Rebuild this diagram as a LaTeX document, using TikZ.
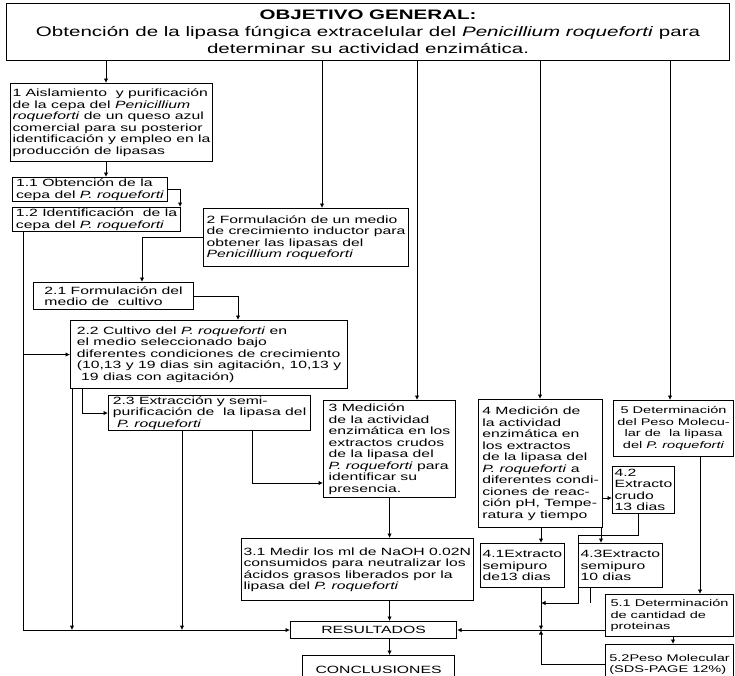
\documentclass[tikz,border=0pt]{standalone}
\usepackage{fontspec}
\setmainfont[FakeStretch=1.5]{Liberation Sans}
\usetikzlibrary{arrows.meta,positioning}
\newcommand{\bxfont}{\fontsize{10.5}{11.5}\selectfont}
\newcommand{\bxsfont}{\fontsize{9.7}{11.5}\selectfont}
\newcommand{\ttlfont}{\fontsize{13.7}{17}\selectfont}
\tikzset{
  bx/.style  = {draw, line width=1.1pt, rectangle, anchor=north west,
                inner xsep=2pt, inner ysep=1pt, align=left, font=\bxfont},
  bxs/.style = {bx, inner xsep=1.5pt, font=\bxsfont},
  ln/.style  = {line width=0.9pt},
  sig/.style = {-{Latex[length=4.5pt,width=4.5pt]}, line width=0.9pt},
}
\begin{document}
\begin{tikzpicture}[x=1pt,y=-1pt]
\useasboundingbox (0,0) rectangle (735,675);
% objective
\node[bx, align=center, font=\ttlfont, minimum width=723pt, minimum height=57pt] (obj) at (6,3)
  {\textbf{OBJETIVO GENERAL:}\\Obtención de la lipasa fúngica extracelular del \textit{Penicillium roqueforti} para\\determinar su actividad enzimática.};
% column 1
\node[bx, minimum width=202pt, minimum height=78pt] (ais) at (10,83)
  {1 Aislamiento \ y purificación\\de la cepa del \textit{Penicillium}\\\textit{roqueforti} de un queso azul\\comercial para su posterior\\identificación y empleo en la\\producción de lipasas};
\node[bx, minimum width=155pt, minimum height=24pt] (obt) at (12,177)
  {1.1 Obtención de la\\cepa del \textit{P. roqueforti}};
\node[bx, minimum width=168pt, minimum height=24pt] (ide) at (12,207)
  {1.2 Identificación \ de la\\cepa del \textit{P. roqueforti}};
% column 2
\node[bx, minimum width=205pt, minimum height=58pt] (ob2) at (203,208)
  {2 Formulación de un medio\\de crecimiento inductor para\\obtener las lipasas del\\\textit{Penicillium roqueforti}};
\node[bx, minimum width=160pt, minimum height=27pt] (fmed) at (33,282)
  {2.1 Formulación del\\medio de \ cultivo};
\node[bx, minimum width=277pt, minimum height=68pt] (cult) at (70,320)
  {2.2 Cultivo del \textit{P. roqueforti} en\\el medio seleccionado bajo\\diferentes condiciones de crecimiento\\(10,13 y 19 dias sin agitación, 10,13 y\\\ 19 dias con agitación)};
\node[bx, minimum width=202pt, minimum height=35pt] (extr) at (108,395)
  {2.3 Extracción y semi-\\purificación de \ la lipasa del\\\ \textit{P. roqueforti}};
% column 3
\node[bx, minimum width=132pt, minimum height=97pt] (ob3) at (323,400)
  {3 Medición\\de la actividad\\enzimática en los\\extractos crudos\\de la lipasa del\\\textit{P. roqueforti} para\\identificar su\\presencia.};
\node[bx, minimum width=227pt, minimum height=62pt] (med) at (241,538)
  {3.1 Medir los ml de NaOH 0.02N\\consumidos para neutralizar los\\ácidos grasos liberados por la\\lipasa del \textit{P. roqueforti}};
\node[bx, align=center, minimum width=166pt, minimum height=17pt] (res) at (290,621) {RESULTADOS};
\node[bx, align=center, minimum width=152pt, minimum height=28pt] (conc) at (302,655) {CONCLUSIONES};
% column 4
\node[bx, minimum width=124pt, minimum height=128pt] (ob4) at (478,399)
  {4 Medición de\\la actividad\\enzimática en\\los extractos\\de la lipasa del\\\textit{P. roqueforti} a\\diferentes condi-\\ciones de reac-\\ción pH, Tempe-\\ratura y tiempo};
\node[bx, minimum width=79pt, minimum height=44pt] (e41) at (480,543)
  {4.1Extracto\\semipuro\\de13 dias};
\node[bx, minimum width=46pt, minimum height=47pt] (e42) at (612,466)
  {4.2\\Extracto\\crudo\\13 dias};
\node[bx, minimum width=61pt, minimum height=44pt] (e43) at (578,543)
  {4.3Extracto\\semipuro\\10 dias};
% column 5
\node[bxs, align=center, minimum width=120pt, minimum height=56pt] (ob5) at (613,400)
  {5 Determinación\\del Peso Molecu-\\lar de \ la lipasa\\del \textit{P. roqueforti}};
\node[bxs, minimum width=128pt, minimum height=42pt] (e51) at (605,594)
  {5.1 Determinación\\de cantidad de\\proteinas};
\node[bxs, minimum width=128pt, minimum height=40pt] (e52) at (605,644)
  {5.2Peso Molecular\\(SDS-PAGE 12\%)};
% connector columns and rows
\coordinate (xa) at (106,0);  \coordinate (xb) at (322,0);
\coordinate (xc) at (417,0);  \coordinate (xd) at (540,0);
\coordinate (xe) at (670,0);  \coordinate (xl) at (23,0);
\coordinate (xf) at (142,0);  \coordinate (xg) at (238,0);
\coordinate (xh) at (82,0);   \coordinate (xi) at (72,0);
\coordinate (xj) at (182,0);  \coordinate (xk) at (252,0);
\coordinate (xm) at (541,0);  \coordinate (xn) at (601,0);
\coordinate (xo) at (638,0);  \coordinate (xp) at (590,0);
\coordinate (xq) at (700,0);  \coordinate (xr) at (673,0);
\coordinate (yk) at (0,483);  \coordinate (yn) at (0,498);
\coordinate (yo) at (0,535);  \coordinate (yp) at (0,603);
% from the objective
\draw[sig] (xa |- obj.south) -- (xa |- ais.north);
\draw[sig] (xb |- obj.south) -- (xb |- ob2.north);
\draw[sig] (xc |- obj.south) -- (xc |- ob3.north);
\draw[sig] (xd |- obj.south) -- (xd |- ob4.north);
\draw[sig] (xe |- obj.south) -- (xe |- ob5.north);
% 1
\draw[sig] (xa |- ais.south) -- (xa |- obt.north);
\draw[sig] (obt.east) -| ([xshift=-1pt]ide.north east);
\draw[sig] (xl |- ide.south) |- (res.west);
\draw[sig] (xl |- cult.west) -- (cult.west);
% 2
\draw[sig] (ob2.west) -| (xf |- fmed.north);
\draw[sig] (fmed.east) -| (xg |- cult.north);
\draw[sig] (xh |- cult.south) |- (extr.west);
\draw[sig] (xi |- cult.south) -- (xi |- res.west);
\draw[sig] (xj |- extr.south) -- (xj |- res.west);
\draw[sig] (xk |- extr.south) |- (ob3.west |- yk);
% 3
\draw[sig] (ob3.south) -- (ob3.south |- med.north);
\draw[sig] (ob3.south |- med.south) -- (ob3.south |- res.north);
\draw[sig] (ob3.south |- res.south) -- (ob3.south |- conc.north);
% 4
\draw[sig] (xm |- ob4.south) -- (xm |- e41.north);
\draw[sig] (ob4.east |- yn) -- (e42.west |- yn);
\draw[sig] (xn |- ob4.south) -- (xn |- e43.north);
\draw[sig] (xo |- e42.south) -- (xo |- yo) -| (e43.south west) |- (xm |- yp);
\draw[ln] (xp |- e43.south) -- (xp |- yp);
\draw[sig] (xm |- e41.south) -- (xm |- res.east);
\draw[sig] (e52.west) -| (xm |- res.east);
% 5
\draw[sig] (e51.west |- res.east) -- (res.east);
\draw[sig] (xq |- ob5.south) -- (xq |- e51.north);
\draw[sig] (xr |- e51.south) -- (xr |- e52.north);
\end{tikzpicture}
\end{document}
